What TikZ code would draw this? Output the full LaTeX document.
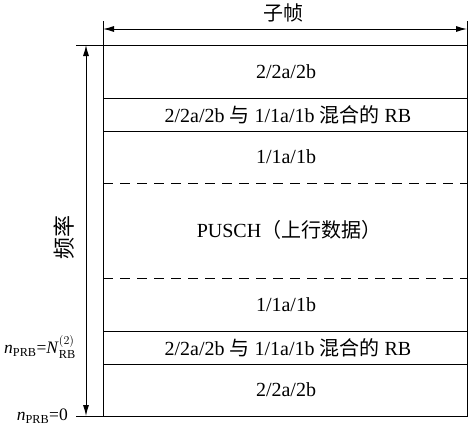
\documentclass[tikz,border=0pt]{standalone}
\usepackage{amsmath}
\usepackage{fontspec}
\setmainfont{Liberation Serif}
\newfontfamily\cjk{Noto Sans CJK SC}
\usetikzlibrary{arrows.meta}
\begin{document}
\begin{tikzpicture}[x=1pt,y=-1pt,
  lbl/.style={font=\fontsize{20}{22}\selectfont, inner sep=0pt},
  sidelbl/.style={font=\fontsize{17.5}{20}\selectfont, inner sep=0pt, anchor=east},
  solidline/.style={line width=1pt},
  dashline/.style={line width=1pt, dash pattern=on 10pt off 7pt},
  dimarrow/.style={line width=1pt, {Latex[length=11pt,width=6pt]}-{Latex[length=11pt,width=6pt]}}]
\useasboundingbox (0,0) rectangle (471,431);
% main box
\draw[solidline] (103,45) rectangle (467,416);
\draw[solidline] (103,98) -- (467,98);
\draw[solidline] (103,131) -- (467,131);
\draw[dashline] (103,183) -- (467,183);
\draw[dashline] (103,278) -- (467,278);
\draw[solidline] (103,331) -- (467,331);
\draw[solidline] (103,364) -- (467,364);
% region labels
\node[lbl] (r1) at (286,72) {2/2a/2b};
\node[lbl] (r2) at (288,115) {2/2a/2b {\cjk 与} 1/1a/1b {\cjk 混合的} RB};
\node[lbl] (r3) at (286,157) {1/1a/1b};
\node[lbl] (r4) at (289,230) {PUSCH{\cjk （上行数据）}};
\node[lbl] (r5) at (286,305) {1/1a/1b};
\node[lbl] (r6) at (288,348) {2/2a/2b {\cjk 与} 1/1a/1b {\cjk 混合的} RB};
\node[lbl] (r7) at (286,390) {2/2a/2b};
% top dimension
\coordinate (tl) at (103,29);
\coordinate (tr) at (467,29);
\draw[solidline] (103,21) -- (103,45);
\draw[solidline] (467,21) -- (467,45);
\draw[dimarrow] (tl) -- (tr);
\node[lbl] (sub) at (283,13) {\cjk 子帧};
% left dimension
\coordinate (lt) at (86,45);
\coordinate (lb) at (86,416);
\draw[solidline] (76,45) -- (103,45);
\draw[solidline] (76,416) -- (103,416);
\draw[dimarrow] (lb) -- (lt);
\node[lbl, rotate=90, font=\fontsize{22}{24}\selectfont] (freq) at (64,237) {\cjk 频率};
\node[sidelbl] (nrb) at (76,347) {\textit{n}$_{\text{PRB}}$=\textit{N}$^{(2)}_{\text{RB}}$};
\node[sidelbl] (n0) at (68,416) {\textit{n}$_{\text{PRB}}$=0};
\end{tikzpicture}
\end{document}
